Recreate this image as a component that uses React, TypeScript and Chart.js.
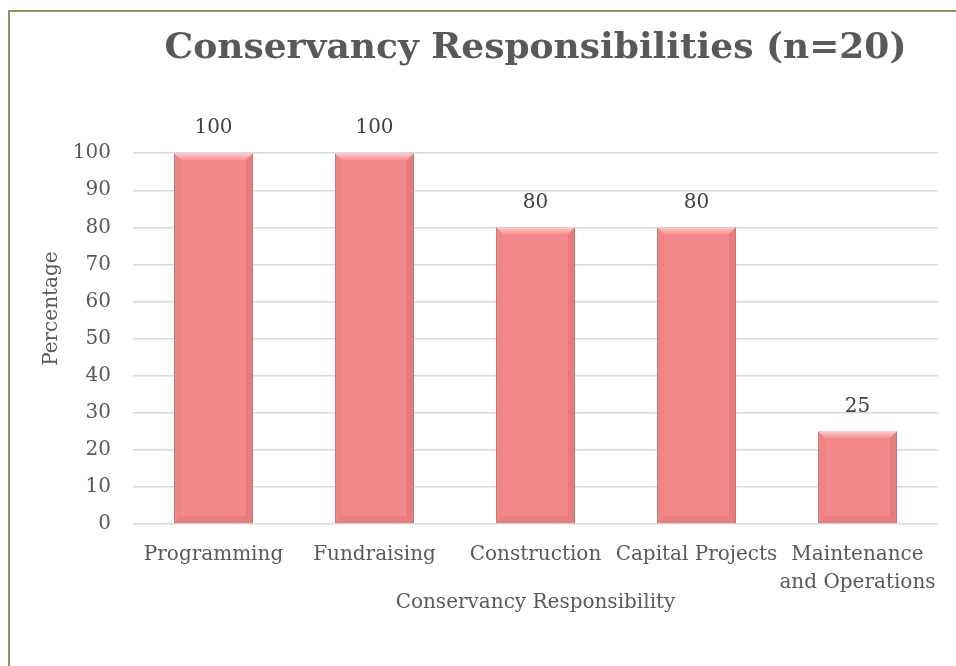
import React, { useEffect, useRef } from "react";
import { Chart, registerables } from "chart.js";

Chart.register(...registerables);

const categories: (string | string[])[] = [
  "Programming",
  "Fundraising",
  "Construction",
  "Capital Projects",
  ["Maintenance", "and Operations"],
];
const percentages: number[] = [100, 100, 80, 80, 25];
const yTicks: number[] = [0, 10, 20, 30, 40, 50, 60, 70, 80, 90, 100];

const chartTitle = "Conservancy Responsibilities (n=20)";
const yAxisTitle = "Percentage";
const xAxisTitle = "Conservancy Responsibility";

const FONT = "'DejaVu Serif', serif";
const TEXT = "#595959";

const bevelPlugin = {
  id: "bevel",
  afterDatasetsDraw(chart: any) {
    const ctx = chart.ctx;
    const meta = chart.getDatasetMeta(0);
    meta.data.forEach((bar: any) => {
      const { x, y, base, width } = bar.getProps(["x", "y", "base", "width"], true);
      const l = x - width / 2;
      const r = x + width / 2;
      const b = 7;
      ctx.save();
      ctx.beginPath();
      ctx.moveTo(l, y);
      ctx.lineTo(r, y);
      ctx.lineTo(r - b, y + b);
      ctx.lineTo(l + b, y + b);
      ctx.closePath();
      const g1 = ctx.createLinearGradient(0, y, 0, y + b);
      g1.addColorStop(0, "rgba(255,215,215,0.9)");
      g1.addColorStop(1, "rgba(255,190,190,0.2)");
      ctx.fillStyle = g1;
      ctx.fill();
      ctx.beginPath();
      ctx.moveTo(l, base);
      ctx.lineTo(r, base);
      ctx.lineTo(r - b, base - b);
      ctx.lineTo(l + b, base - b);
      ctx.closePath();
      ctx.fillStyle = "rgba(190,90,90,0.22)";
      ctx.fill();
      ctx.beginPath();
      ctx.moveTo(l, y);
      ctx.lineTo(l + b, y + b);
      ctx.lineTo(l + b, base - b);
      ctx.lineTo(l, base);
      ctx.closePath();
      ctx.fillStyle = "rgba(190,90,90,0.10)";
      ctx.fill();
      ctx.beginPath();
      ctx.moveTo(r, y);
      ctx.lineTo(r - b, y + b);
      ctx.lineTo(r - b, base - b);
      ctx.lineTo(r, base);
      ctx.closePath();
      ctx.fillStyle = "rgba(170,70,70,0.2)";
      ctx.fill();
      ctx.restore();
    });
  },
};

const labelsPlugin = {
  id: "valueLabels",
  afterDraw(chart: any) {
    const ctx = chart.ctx;
    const meta = chart.getDatasetMeta(0);
    const data = chart.data.datasets[0].data as number[];
    ctx.save();
    ctx.font = `20px ${FONT}`;
    ctx.fillStyle = "#404040";
    ctx.textAlign = "center";
    ctx.textBaseline = "middle";
    meta.data.forEach((bar: any, i: number) => {
      ctx.fillText(String(data[i]), bar.x, bar.y - 25);
    });
    const area = chart.chartArea;
    ctx.font = `20px ${FONT}`;
    ctx.fillStyle = TEXT;
    ctx.translate(area.left - 81, (area.top + area.bottom) / 2 - 30);
    ctx.rotate(-Math.PI / 2);
    ctx.fillText(yAxisTitle, 0, 0);
    ctx.restore();
  },
};

export default function App() {
  const ref = useRef<HTMLCanvasElement>(null);

  useEffect(() => {
    if (!ref.current) return;
    const chart = new Chart(ref.current, {
      type: "bar",
      data: {
        labels: categories,
        datasets: [
          {
            data: percentages,
            backgroundColor: "#F4898A",
            borderColor: "#C46C6C",
            borderWidth: 1,
            categoryPercentage: 1,
            barPercentage: 0.49,
          },
        ],
      },
      options: {
        responsive: false,
        animation: false,
        layout: { padding: { top: 0, left: 10, right: 18, bottom: 40 } },
        plugins: {
          legend: { display: false },
          tooltip: { enabled: false },
          title: {
            display: true,
            text: chartTitle,
            fullSize: false,
            color: TEXT,
            font: { family: FONT, size: 36, weight: "bold", lineHeight: 1.2 },
            padding: { top: 27, bottom: 83 },
          },
        },
        scales: {
          x: {
            grid: { display: false, drawTicks: false },
            border: { display: false },
            ticks: {
              color: TEXT,
              font: { family: FONT, size: 20, lineHeight: 1.4 },
              padding: 17,
              maxRotation: 0,
              minRotation: 0,
              autoSkip: false,
            },
            title: {
              display: true,
              text: xAxisTitle,
              color: TEXT,
              font: { family: FONT, size: 20, lineHeight: 1.2 },
              padding: { top: 0, bottom: 11 },
            },
            afterFit(scale: any) {
              scale.height = 102;
            },
          },
          y: {
            min: 0,
            max: 100,
            afterBuildTicks(scale: any) {
              scale.ticks = yTicks.map((v) => ({ value: v }));
            },
            grid: { color: "#D9D9D9", lineWidth: 1.5, drawTicks: false },
            border: { display: false },
            ticks: {
              color: TEXT,
              font: { family: FONT, size: 20 },
              padding: 22,
            },
            afterFit(scale: any) {
              scale.width = 123;
            },
          },
        },
      },
      plugins: [bevelPlugin, labelsPlugin],
    });
    return () => chart.destroy();
  }, []);

  return (
    <div style={{ position: "fixed", left: 0, top: 0, width: 956, height: 666, background: "#fff", overflow: "hidden" }}>
      <div
        style={{
          position: "absolute",
          left: 8,
          top: 10,
          width: 1000,
          height: 700,
          borderLeft: "2px solid #988E5E",
          borderTop: "2px solid #988E5E",
        }}
      />
      <canvas ref={ref} width={956} height={666} style={{ position: "absolute", left: 0, top: 0 }} />
    </div>
  );
}
